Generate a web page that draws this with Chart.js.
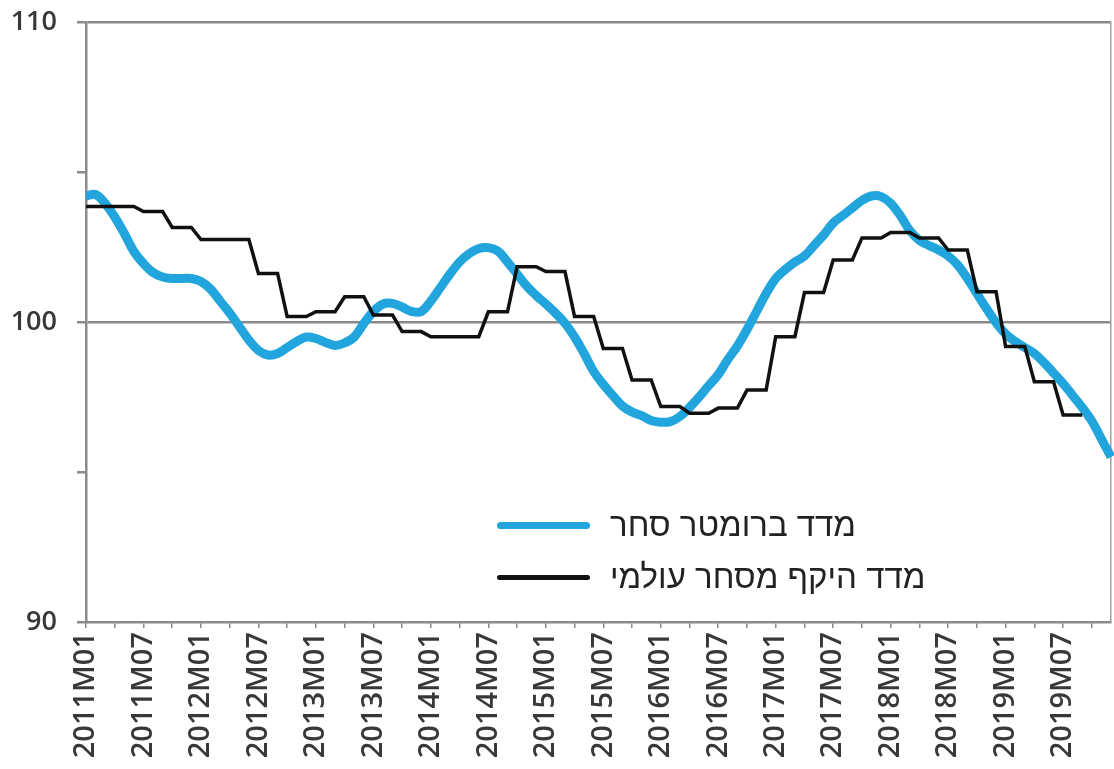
<!DOCTYPE html>
<html>
<head>
<meta charset="utf-8">
<title>Trade barometer vs world trade volume</title>
<script src="https://cdn.jsdelivr.net/npm/chart.js@4.4.1/dist/chart.umd.min.js"></script>
<style>
  html, body { margin: 0; padding: 0; background: #fff; }
  #wrap { position: relative; width: 1114px; height: 769px; }
  #legend {
    position: absolute; left: 497px; top: 499px;
    font-family: 'Liberation Sans', Arial, sans-serif; font-size: 33px; color: #222;
  }
  .row { display: flex; align-items: center; height: 52px; }
  .swatch { width: 93px; border-radius: 4px; margin-right: 20px; }
</style>
</head>
<body>
<div id="wrap">
  <canvas id="chart" width="1114" height="769"></canvas>
  <div id="legend"></div>
</div>
<script>
const years = ['2011', '2012', '2013', '2014', '2015', '2016', '2017', '2018', '2019'];
const months = [];
years.forEach(y => {
  for (let m = 1; m <= 12; m++) months.push(y + 'M' + String(m).padStart(2, '0'));
});

const seriesNames = ['מדד ברומטר סחר', 'מדד היקף מסחר עולמי'];

// monthly, 2011M01 - 2019M12
const barometer = [
  104.2, 104.25, 103.95, 103.5, 102.95, 102.35, 101.95, 101.65, 101.5, 101.45, 101.45, 101.45,
  101.35, 101.1, 100.7, 100.3, 99.85, 99.4, 99.05, 98.9, 98.95, 99.15, 99.35, 99.5,
  99.45, 99.32, 99.22, 99.3, 99.5, 99.95, 100.35, 100.6, 100.62, 100.5, 100.35, 100.35,
  100.7, 101.15, 101.6, 102.0, 102.28, 102.45, 102.48, 102.36, 102.0, 101.6, 101.2, 100.88,
  100.6, 100.3, 99.96, 99.5, 98.95, 98.35, 97.92, 97.55, 97.2, 97.0, 96.88, 96.72,
  96.66, 96.68, 96.85, 97.15, 97.5, 97.88, 98.25, 98.75, 99.2, 99.75, 100.35, 100.95,
  101.45, 101.75, 102.0, 102.2, 102.55, 102.9, 103.3, 103.55, 103.8, 104.05, 104.2, 104.18,
  103.96, 103.55, 103.05, 102.72, 102.55, 102.4, 102.2, 101.9, 101.45, 100.95, 100.45, 99.98,
  99.6, 99.35, 99.15, 98.95, 98.65, 98.3, 97.95, 97.55, 97.15, 96.7, 96.1, 95.5
];

// quarterly index shown monthly, ends 2019M09
const worldTrade = [
  103.85, 103.85, 103.85, 103.85, 103.85, 103.85, 103.68, 103.68, 103.68, 103.15, 103.15, 103.15,
  102.75, 102.75, 102.75, 102.75, 102.75, 102.75, 101.62, 101.62, 101.62, 100.18, 100.18, 100.18,
  100.34, 100.34, 100.34, 100.84, 100.84, 100.84, 100.23, 100.23, 100.23, 99.68, 99.68, 99.68,
  99.51, 99.51, 99.51, 99.51, 99.51, 99.51, 100.34, 100.34, 100.34, 101.84, 101.84, 101.84,
  101.68, 101.68, 101.68, 100.18, 100.18, 100.18, 99.12, 99.12, 99.12, 98.07, 98.07, 98.07,
  97.18, 97.18, 97.18, 96.96, 96.96, 96.96, 97.13, 97.13, 97.13, 97.73, 97.73, 97.73,
  99.51, 99.51, 99.51, 100.98, 100.98, 100.98, 102.07, 102.07, 102.07, 102.8, 102.8, 102.8,
  102.98, 102.98, 102.98, 102.8, 102.8, 102.8, 102.4, 102.4, 102.4, 101.01, 101.01, 101.01,
  99.18, 99.18, 99.18, 98.01, 98.01, 98.01, 96.9, 96.9, 96.9, null, null, null
];

const yLabelled = [90, 100, 110];
const yLines = [100, 110];

const AXIS = '#8a8a8a';
const TEXT = '#383838';
const FONT = "'Open Sans', 'Liberation Sans', sans-serif";

const chart = new Chart(document.getElementById('chart'), {
  type: 'line',
  data: {
    labels: months,
    datasets: [
      {
        label: seriesNames[0],
        data: barometer,
        borderColor: '#22a5dd',
        borderWidth: 9,
        tension: 0.4,
        pointRadius: 0,
        order: 2
      },
      {
        label: seriesNames[1],
        data: worldTrade,
        borderColor: '#111',
        borderWidth: 3.5,
        tension: 0,
        pointRadius: 0,
        order: 1
      }
    ]
  },
  options: {
    responsive: false,
    animation: false,
    devicePixelRatio: 1,
    layout: { padding: { top: 22, right: 3, left: 0, bottom: 0 } },
    plugins: { legend: { display: false }, tooltip: { enabled: false } },
    scales: {
      x: {
        offset: false,
        grid: {
          drawOnChartArea: false,
          tickLength: 6,
          lineWidth: 1.5,
          color: ctx => ctx.index % 3 === 0 ? AXIS : 'rgba(0,0,0,0)'
        },
        border: { color: AXIS, width: 2.5 },
        ticks: {
          autoSkip: false,
          maxRotation: 90,
          minRotation: 90,
          padding: 4,
          color: TEXT,
          font: { family: FONT, size: 29, weight: '600' },
          callback: (v, i) => i % 6 === 0 ? months[i] : ''
        },
        afterFit: s => { s.height = 147; s.paddingLeft = 0; s.paddingRight = 0; }
      },
      y: {
        min: 90,
        max: 110,
        ticks: {
          stepSize: 5,
          padding: 20,
          color: TEXT,
          font: { family: FONT, size: 27, weight: '600' },
          callback: v => yLabelled.includes(v) ? v : ''
        },
        grid: {
          lineWidth: 2.5,
          tickLength: 9,
          tickColor: AXIS,
          color: ctx => (ctx.tick && yLines.includes(ctx.tick.value)) ? AXIS : 'rgba(0,0,0,0)'
        },
        border: { color: AXIS, width: 2.5 },
        afterFit: s => { s.width = 86; s.paddingTop = 0; s.paddingBottom = 0; }
      },
      y2: {
        position: 'right',
        min: 90,
        max: 110,
        ticks: { display: false },
        grid: { display: false, drawTicks: false },
        border: { color: '#a0a0a0', width: 1.5 },
        afterFit: s => { s.width = 0; s.paddingTop = 0; s.paddingBottom = 0; }
      }
    }
  }
});

// legend inside the plot, built from the datasets
const legendEl = document.getElementById('legend');
legendEl.innerHTML = chart.data.datasets.map(ds => `
  <div class="row">
    <span class="swatch" style="height:${ds.borderWidth > 5 ? 7 : 5}px; background:${ds.borderColor};"></span>
    <span>${ds.label}</span>
  </div>
`).join('');
</script>
</body>
</html>
